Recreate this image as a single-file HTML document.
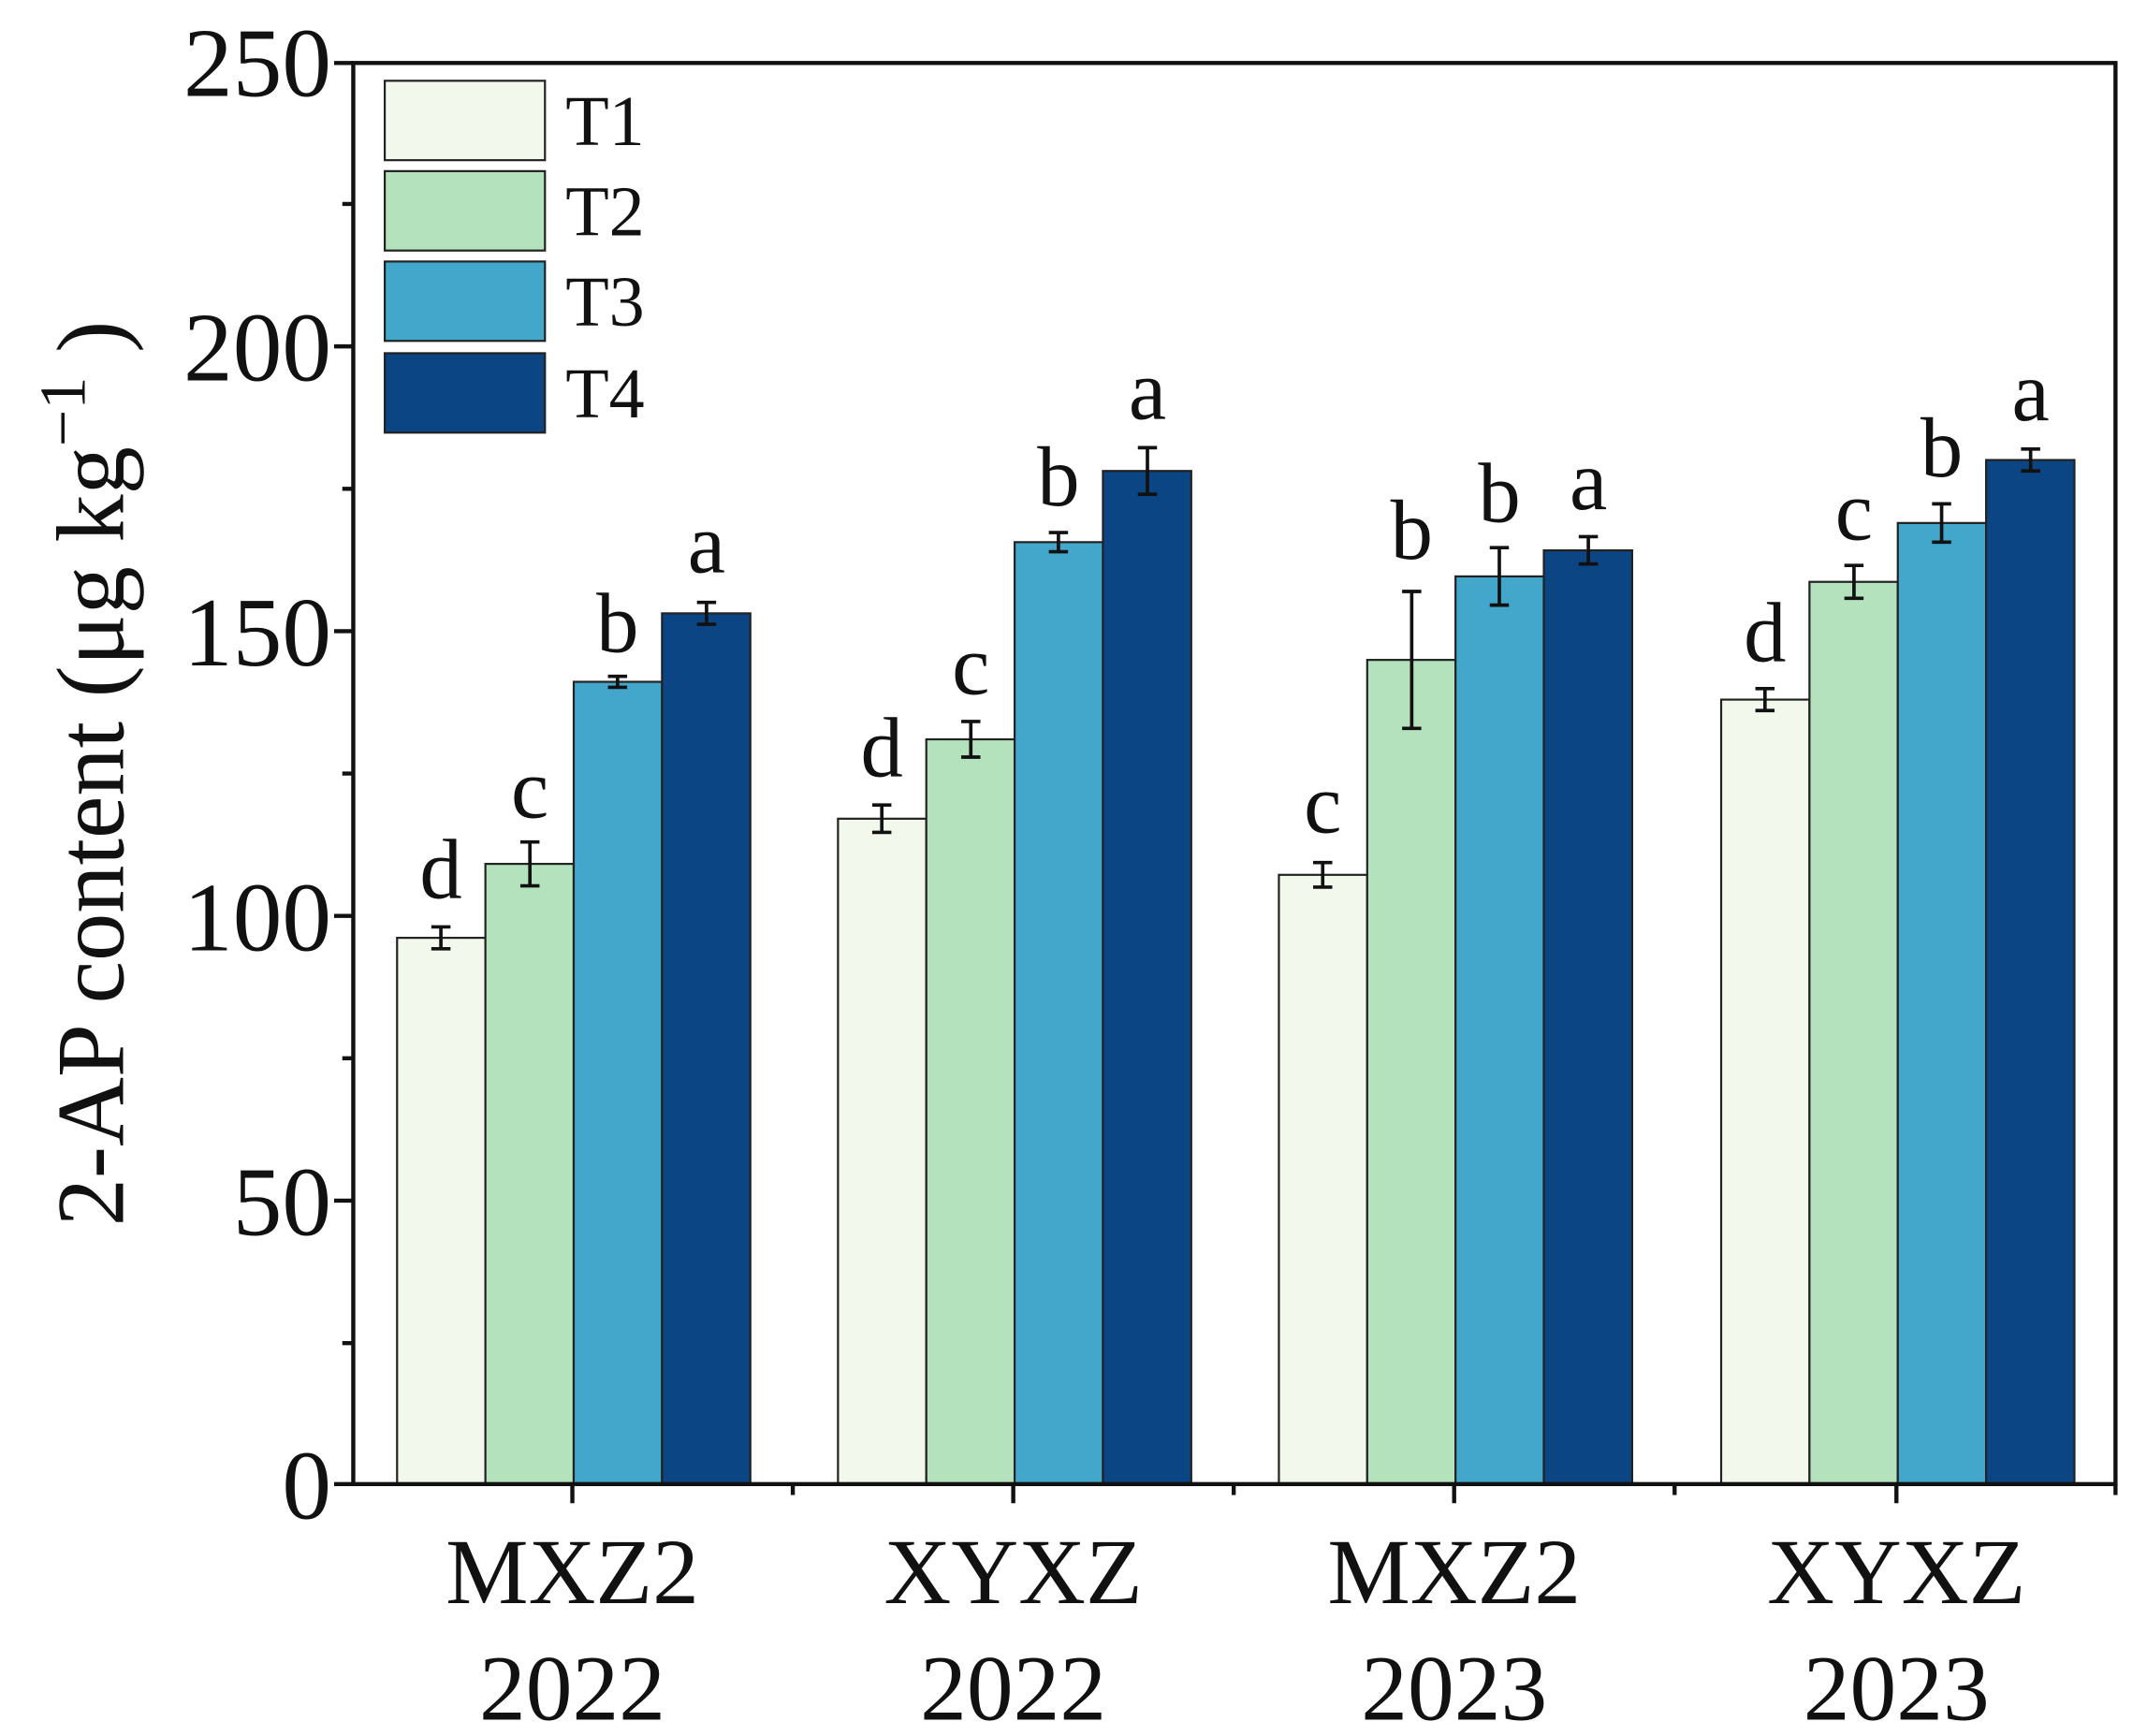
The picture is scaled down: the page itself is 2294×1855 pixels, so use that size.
<!DOCTYPE html>
<html><head><style>html,body{margin:0;padding:0;background:#fff}svg{display:block}</style></head>
<body>
<svg width="2294" height="1855" viewBox="0 0 1568 1268" preserveAspectRatio="none" xmlns="http://www.w3.org/2000/svg" font-family="Liberation Serif, serif">
<g stroke="#222" stroke-width="1.5">
<rect x="290" y="685" width="64.5" height="399" fill="#f2f8ec"/>
<rect x="354.5" y="631" width="64.5" height="453" fill="#b3e2bc"/>
<rect x="419" y="498" width="64.5" height="586" fill="#43a6cb"/>
<rect x="483.5" y="448" width="64.5" height="636" fill="#0b4584"/>
<rect x="612" y="598" width="64.5" height="486" fill="#f2f8ec"/>
<rect x="676.5" y="540" width="64.5" height="544" fill="#b3e2bc"/>
<rect x="741" y="396" width="64.5" height="688" fill="#43a6cb"/>
<rect x="805.5" y="344" width="64.5" height="740" fill="#0b4584"/>
<rect x="934" y="639" width="64.5" height="445" fill="#f2f8ec"/>
<rect x="998.5" y="482" width="64.5" height="602" fill="#b3e2bc"/>
<rect x="1063" y="421" width="64.5" height="663" fill="#43a6cb"/>
<rect x="1127.5" y="402" width="64.5" height="682" fill="#0b4584"/>
<rect x="1257" y="511" width="64.5" height="573" fill="#f2f8ec"/>
<rect x="1321.5" y="425" width="64.5" height="659" fill="#b3e2bc"/>
<rect x="1386" y="382" width="64.5" height="702" fill="#43a6cb"/>
<rect x="1450.5" y="336" width="64.5" height="748" fill="#0b4584"/>
</g>
<g stroke="#111" stroke-width="2.5" fill="none">
<path d="M322 677v16M315 677h14M315 693h14"/>
<path d="M387 615v32M380 615h14M380 647h14"/>
<path d="M451 494v8M444 494h14M444 502h14"/>
<path d="M516 440v16M509 440h14M509 456h14"/>
<path d="M644 588v20M637 588h14M637 608h14"/>
<path d="M709 527v26M702 527h14M702 553h14"/>
<path d="M773 389v14M766 389h14M766 403h14"/>
<path d="M838 327v34M831 327h14M831 361h14"/>
<path d="M966 630v18M959 630h14M959 648h14"/>
<path d="M1031 432v100M1024 432h14M1024 532h14"/>
<path d="M1095 400v42M1088 400h14M1088 442h14"/>
<path d="M1160 392v20M1153 392h14M1153 412h14"/>
<path d="M1289 503v16M1282 503h14M1282 519h14"/>
<path d="M1354 413v24M1347 413h14M1347 437h14"/>
<path d="M1418 368v28M1411 368h14M1411 396h14"/>
<path d="M1483 328v16M1476 328h14M1476 344h14"/>
</g>
<g font-size="62" text-anchor="middle" fill="#111">
<text x="322" y="656">d</text><text x="387" y="597">c</text><text x="451" y="476">b</text><text x="516" y="418">a</text>
<text x="644" y="567">d</text><text x="709" y="507">c</text><text x="773" y="369">b</text><text x="838" y="306">a</text>
<text x="966" y="608">c</text><text x="1031" y="408">b</text><text x="1095" y="381">b</text><text x="1160" y="372">a</text>
<text x="1289" y="483">d</text><text x="1354" y="394">c</text><text x="1418" y="348">b</text><text x="1483" y="307">a</text>
</g>
<g stroke="#111" stroke-width="3" fill="none">
<rect x="258" y="46" width="1287" height="1038"/>
<path d="M258 46h-14M258 253h-14M258 461h-14M258 669h-14M258 877h-14M258 1084h-14"/>
<path d="M258 149h-8M258 357h-8M258 565h-8M258 773h-8M258 981h-8"/>
<path d="M418 1084v14M740 1084v14M1062 1084v14M1385 1084v14"/>
<path d="M579 1084v8M901 1084v8M1223 1084v8M1545 1084v8"/>
</g>
<g font-size="72" text-anchor="end" fill="#111">
<text x="242" y="70">250</text><text x="242" y="278">200</text><text x="242" y="486">150</text>
<text x="242" y="694">100</text><text x="242" y="902">50</text><text x="242" y="1109">0</text>
</g>
<g font-size="68" text-anchor="middle" fill="#111">
<text x="418" y="1171">MXZ2</text><text x="418" y="1256">2022</text>
<text x="740" y="1171">XYXZ</text><text x="740" y="1256">2022</text>
<text x="1062" y="1171">MXZ2</text><text x="1062" y="1256">2023</text>
<text x="1385" y="1171">XYXZ</text><text x="1385" y="1256">2023</text>
</g>
<text transform="translate(90,565) rotate(-90)" font-size="70" text-anchor="middle" fill="#111">2-AP content (μg kg<tspan dy="-28" font-size="48">−1</tspan><tspan dy="28"> )</tspan></text>
<g stroke="#222" stroke-width="1.5">
<rect x="281" y="59" width="117" height="58" fill="#f2f8ec"/>
<rect x="281" y="125" width="117" height="58" fill="#b3e2bc"/>
<rect x="281" y="191" width="117" height="58" fill="#43a6cb"/>
<rect x="281" y="258" width="117" height="58" fill="#0b4584"/>
</g>
<g font-size="52" fill="#111">
<text x="413" y="106">T1</text><text x="413" y="172">T2</text><text x="413" y="238">T3</text><text x="413" y="305">T4</text>
</g>
</svg>
</body></html>
